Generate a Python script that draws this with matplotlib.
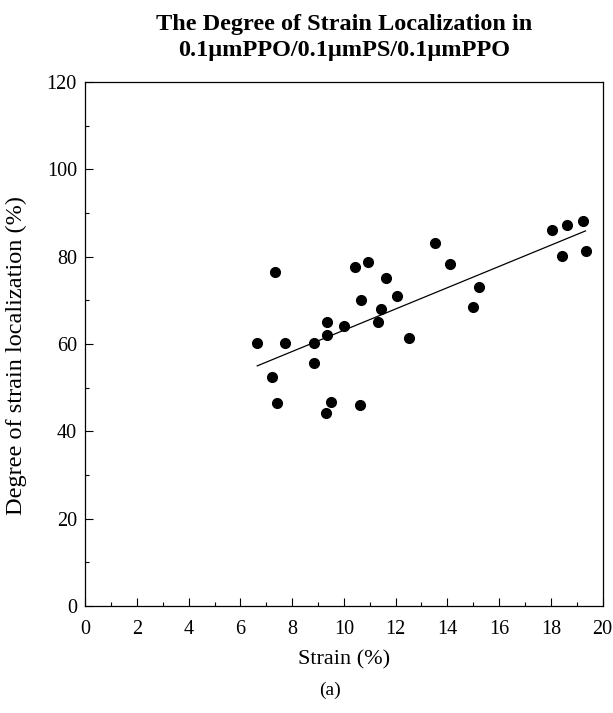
import matplotlib
matplotlib.use("Agg")
import matplotlib.pyplot as plt
from matplotlib.ticker import MultipleLocator

plt.rcParams["font.family"] = ["Liberation Serif", "DejaVu Serif"]

# measured points: strain (%) vs degree of strain localization (%)
strain = [7.33, 10.43, 10.93, 11.62, 12.04, 10.65, 11.43, 11.33, 9.33, 10.01,
          9.33, 6.63, 7.73, 8.83, 12.52, 8.83, 7.22, 7.41, 9.52, 9.32,
          10.62, 13.53, 14.12, 15.22, 15.01, 18.04, 18.63, 19.24, 18.43, 19.34]
degree = [76.4, 77.7, 78.8, 75.1, 71.1, 70.1, 68.1, 65.1, 65.1, 64.1,
          62.1, 60.2, 60.2, 60.3, 61.4, 55.6, 52.4, 46.4, 46.7, 44.2,
          46.1, 83.2, 78.3, 73.1, 68.4, 86.1, 87.2, 88.2, 80.1, 81.3]

# linear trend line, end points
fit_x = [6.65, 19.34]
fit_y = [55.0, 85.9]

fig = plt.figure(figsize=(6.13, 7.13), dpi=100)
ax = fig.add_axes([0.139, 0.150, 0.844, 0.735])

ax.plot(fit_x, fit_y, color="black", lw=0.9, zorder=2)
ax.plot(strain, degree, "o", color="black", ms=7, zorder=3)

ax.set_xlim(0, 20)
ax.set_ylim(0, 120)
ax.xaxis.set_major_locator(MultipleLocator(2))
ax.xaxis.set_minor_locator(MultipleLocator(1))
ax.yaxis.set_major_locator(MultipleLocator(20))
ax.yaxis.set_minor_locator(MultipleLocator(10))
ax.tick_params(which="both", direction="in", top=False, right=False,
               labelsize=14.5, width=0.8)
ax.tick_params(which="major", length=6)
ax.tick_params(which="minor", length=3)
ax.tick_params(axis="x", which="major", pad=10)
ax.tick_params(axis="y", which="major", pad=6)
for sp in ax.spines.values():
    sp.set_linewidth(0.9)

ax.set_xlabel("Strain (%)", fontsize=16, labelpad=8)
ax.set_ylabel("Degree of strain localization (%)", fontsize=17.5)
ax.yaxis.set_label_coords(-0.113, 0.479)
ax.set_title("The Degree of Strain Localization in\n0.1\u03bcmPPO/0.1\u03bcmPS/0.1\u03bcmPPO",
             fontsize=17.5, fontweight="bold", pad=19, linespacing=1.3)

fig.text(0.5385, 0.032, "(a)", ha="center", va="center", fontsize=14)

fig.savefig("out.png", dpi=100)
